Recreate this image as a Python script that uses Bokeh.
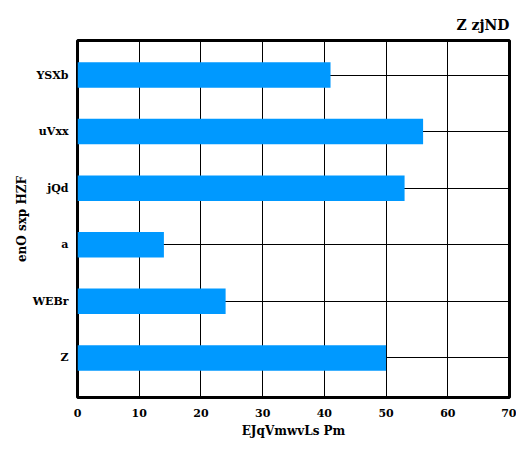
from bokeh.plotting import figure
from bokeh.embed import file_html
from bokeh.resources import INLINE
from bokeh.models import Range1d, FixedTicker

categories = ["Z", "WEBr", "a", "jQd", "uVxx", "YSXb"]
values = [50, 24, 14, 53, 56, 41]
x_ticks = [0, 10, 20, 30, 40, 50, 60, 70]

FONT = "DejaVu Serif"

positions = list(range(len(categories)))

p = figure(
    y_range=Range1d(-0.70, len(categories) - 1 + 0.61),
    x_range=Range1d(0, 70),
    width=516, height=440,
    min_border_left=77, min_border_right=7, min_border_top=40, min_border_bottom=38,
    output_backend="svg", toolbar_location=None,
    title="Z zjND",
)
p.hbar(y=positions, right=values, left=0, height=0.45, color="#0099FF", line_color=None)

p.title.align = "right"
p.title.text_font = FONT
p.title.text_font_size = "14px"
p.title.text_font_style = "bold"
p.title.text_color = "black"
p.title.standoff = 15

p.outline_line_color = "black"
p.outline_line_width = 3
p.outline_line_alpha = 1

for g in (p.xgrid, p.ygrid):
    g.grid_line_color = "black"
    g.grid_line_alpha = 1
    g.grid_line_width = 1
p.xgrid.ticker = FixedTicker(ticks=x_ticks)
p.ygrid.ticker = FixedTicker(ticks=positions)

p.xaxis.ticker = FixedTicker(ticks=x_ticks)
p.yaxis.ticker = FixedTicker(ticks=positions)
p.yaxis.major_label_overrides = {i: c for i, c in zip(positions, categories)}
for ax in (p.xaxis, p.yaxis):
    ax.axis_line_color = None
    ax.major_tick_line_color = None
    ax.minor_tick_line_color = None
    ax.major_label_text_font = FONT
    ax.major_label_text_font_style = "bold"
    ax.major_label_text_font_size = "11px"
    ax.major_label_text_color = "black"
    ax.axis_label_text_font = FONT
    ax.axis_label_text_font_style = "bold"
    ax.axis_label_text_font_size = "12px"
    ax.axis_label_text_color = "black"
p.xaxis.axis_label = "EJqVmwvLs Pm"
p.yaxis.axis_label = "enO sxp HZF"
p.xaxis.major_label_standoff = 5
p.xaxis.axis_label_standoff = 4
p.yaxis.major_label_standoff = 3
p.yaxis.axis_label_standoff = 1

open("out.html", "w").write(file_html(p, INLINE))
